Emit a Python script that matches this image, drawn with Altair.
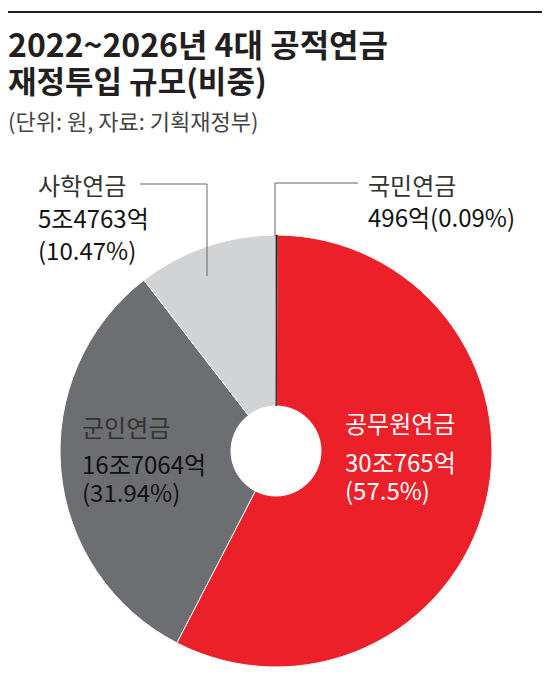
import altair as alt
import pandas as pd

# ---- data ----
names = ["국민연금", "공무원연금", "군인연금", "사학연금"]
shares = [0.09, 57.5, 31.94, 10.47]
amounts = ["496억", "30조765억", "16조7064억", "5조4763억"]
pct_labels = ["(0.09%)", "(57.5%)", "(31.94%)", "(10.47%)"]
colors = ["#231F20", "#EC2029", "#6D6E71", "#D1D3D4"]

title1 = "2022~2026년 4대 공적연금"
title2 = "재정투입 규모(비중)"
subtitle = "(단위: 원,  자료: 기획재정부)"

FONT = "Noto Sans CJK KR"
W, H = 534, 670
CX, CY, R, R0 = 268, 443, 216, 45

df = pd.DataFrame({"name": names, "share": shares, "idx": list(range(len(names)))})

pie = alt.Chart(df).mark_arc(
    innerRadius=R0, outerRadius=R, stroke="white", strokeWidth=1
).encode(
    theta=alt.Theta("share:Q", stack=True),
    order=alt.Order("idx:Q"),
    color=alt.Color("name:N", scale=alt.Scale(domain=names, range=colors), legend=None),
    x=alt.value(CX),
    y=alt.value(CY),
)

# small black slice redrawn on top so the white separators do not hide it
tiny = alt.Chart(df).mark_arc(
    innerRadius=R0, outerRadius=R, stroke=colors[0], strokeWidth=0.8, fill=colors[0]
).encode(
    theta=alt.Theta("share:Q", stack=True),
    order=alt.Order("idx:Q"),
    opacity=alt.condition(alt.datum.name == names[0], alt.value(1), alt.value(0)),
    x=alt.value(CX),
    y=alt.value(CY),
)

one = alt.Data(values=[{"a": 1}])


def txt(t, x, y, size, color, weight="normal"):
    return alt.Chart(one).mark_text(
        text=t, font=FONT, fontSize=size, fontWeight=weight, color=color,
        align="left", baseline="alphabetic"
    ).encode(x=alt.value(x), y=alt.value(y))


def rule(x1, y1, x2, y2, color="#666666", w=1):
    return alt.Chart(one).mark_rule(color=color, strokeWidth=w).encode(
        x=alt.value(x1), y=alt.value(y1), x2=alt.value(x2), y2=alt.value(y2)
    )


NAME_C = "#333333"
NUM_C = "#111111"
LS = 24

layers = [
    rule(0, 4, W, 4, color="#231F20", w=2),
    pie,
    tiny,
    txt(title1, 0, 49, 32, "#231F20", "bold"),
    txt(title2, 0, 85, 31, "#231F20", "bold"),
    txt(subtitle, 0, 122, 22, "#444444"),
    # 사학연금 (outside, left)
    rule(132, 176, 199, 176),
    rule(199, 176, 199, 268),
    txt(names[3], 30, 187, LS, NAME_C),
    txt(amounts[3], 30, 220, LS, NUM_C),
    txt(pct_labels[3], 30, 252, LS, NUM_C),
    # 국민연금 (outside, right)
    rule(267, 175, 350, 175),
    rule(267, 175, 267, 228),
    txt(names[0], 360, 187, LS, NAME_C),
    txt(amounts[0] + pct_labels[0], 360, 219, LS, NUM_C),
    # 공무원연금 (inside, white)
    txt(names[1], 337, 425, LS, "white"),
    txt(amounts[1], 337, 464, LS, "white"),
    txt(pct_labels[1], 337, 492, LS, "white"),
    # 군인연금 (inside)
    txt(names[2], 74, 429, LS, NAME_C),
    txt(amounts[2], 74, 466, LS, NUM_C),
    txt(pct_labels[2], 74, 494, LS, NUM_C),
]

chart = alt.layer(*layers).properties(
    width=W, height=H, padding=0,
    autosize=alt.AutoSizeParams(type="none"),
    background="white",
).configure_view(stroke=None)

chart.save("out.html", embed_options={"renderer": "svg", "actions": False})
